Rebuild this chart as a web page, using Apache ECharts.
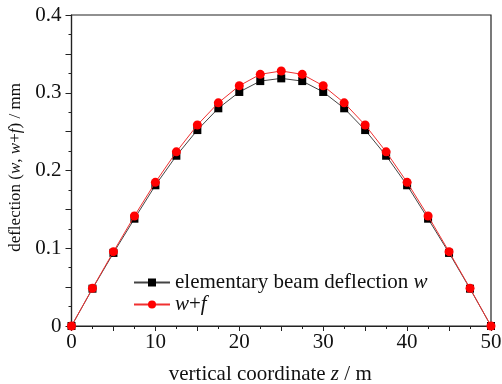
<!DOCTYPE html>
<html><head><meta charset="utf-8">
<script src="https://cdn.jsdelivr.net/npm/echarts@6/dist/echarts.min.js"></script>
<style>html,body{margin:0;padding:0;background:#fff}#c{width:502px;height:384px}</style>
</head><body><div id="c"></div>
<script>
const zValues = [0, 2.5, 5, 7.5, 10, 12.5, 15, 17.5, 20, 22.5, 25, 27.5, 30, 32.5, 35, 37.5, 40, 42.5, 45, 47.5, 50];
const wValues = [0, 0.048, 0.094, 0.138, 0.181, 0.219, 0.252, 0.280, 0.301, 0.315, 0.3185, 0.315, 0.301, 0.280, 0.252, 0.219, 0.181, 0.138, 0.094, 0.048, 0];
const wfValues = [0, 0.0485, 0.0956, 0.1415, 0.1848, 0.224, 0.2585, 0.287, 0.309, 0.3237, 0.328, 0.3237, 0.309, 0.287, 0.2585, 0.224, 0.1848, 0.1415, 0.0956, 0.0485, 0];
const seriesNames = ['elementary beam deflection w', 'w+f'];

const font = 'Liberation Serif';
const rich = fs => ({n: {fontFamily: font, fontSize: fs, color: '#111'}, i: {fontFamily: font, fontSize: fs, fontStyle: 'italic', color: '#111'}});
const chart = echarts.init(document.getElementById('c'));
const pair = (xs, ys) => xs.map((x, i) => [x, ys[i]]);
chart.setOption({
  animation: false,
  backgroundColor: '#fff',
  grid: {left: 71.5, right: 11, top: 15, bottom: 58, containLabel: false, outerBoundsMode: 'none',
    show: true, borderColor: '#222', borderWidth: 1.2, backgroundColor: 'transparent'},
  legend: {
    orient: 'vertical', left: 128, top: 267, itemWidth: 36, itemHeight: 10, itemGap: 1,
    data: seriesNames,
    formatter: n => n === seriesNames[0] ? '{n|elementary beam deflection }{i|w}' : '{i|w}{n|+}{i|f}',
    textStyle: {fontFamily: font, fontSize: 21, color: '#111', rich: rich(21)}
  },
  xAxis: {
    type: 'value', min: 0, max: 50, interval: 5,
    name: '{n|vertical coordinate }{i|z}{n| / m}', nameLocation: 'middle', nameGap: 38,
    nameTextStyle: {padding: [0, 22, 0, 0], rich: rich(21)},
    axisLine: {lineStyle: {color: '#222', width: 1.2}},
    axisTick: {inside: false, length: 5, lineStyle: {color: '#222'}},
    minorTick: {show: true, splitNumber: 2, length: 3, lineStyle: {color: '#222'}},
    splitLine: {show: false},
    axisLabel: {fontFamily: font, fontSize: 21, color: '#111', margin: 6,
      formatter: v => (Math.round(v) % 10 === 0 ? String(Math.round(v)) : '')}
  },
  yAxis: {
    type: 'value', min: 0, max: 0.4, interval: 0.05,
    name: '{n|deflection (}{i|w}{n|, }{i|w}{n|+}{i|f}{n|) / mm}', nameLocation: 'middle', nameGap: 46,
    nameTextStyle: {padding: [0, 0, 0, 6], rich: rich(17)},
    axisLine: {show: true, lineStyle: {color: '#222', width: 1.2}},
    axisTick: {show: true, inside: false, length: 6, lineStyle: {color: '#222'}},
    minorTick: {show: true, splitNumber: 2, length: 3, lineStyle: {color: '#222'}},
    splitLine: {show: false},
    axisLabel: {fontFamily: font, fontSize: 21, color: '#111', margin: 10,
      formatter: v => { const r = Math.round(v * 100); return r % 10 === 0 ? String(r / 100) : ''; }}
  },
  series: [
    {name: seriesNames[0], type: 'line', data: pair(zValues, wValues), symbol: 'rect', symbolSize: 8,
      lineStyle: {color: '#444', width: 1}, itemStyle: {color: '#000'}, z: 2},
    {name: seriesNames[1], type: 'line', data: pair(zValues, wfValues), symbol: 'circle', symbolSize: 9,
      lineStyle: {color: '#f03030', width: 1}, itemStyle: {color: '#ff0000'}, z: 3}
  ]
});
</script></body></html>
